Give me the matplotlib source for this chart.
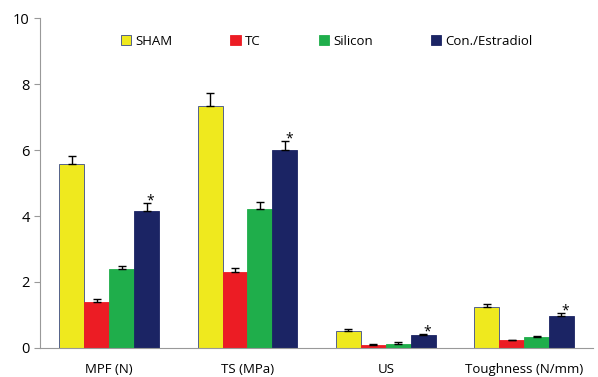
import matplotlib
matplotlib.use('Agg')

import matplotlib.pyplot as plt
import numpy as np

categories = ['MPF (N)', 'TS (MPa)', 'US', 'Toughness (N/mm)']
groups = ['SHAM', 'TC', 'Silicon', 'Con./Estradiol']
sham = [5.58, 7.33, 0.52, 1.25]
tc = [1.40, 2.30, 0.10, 0.24]
silicon = [2.39, 4.21, 0.13, 0.32]
estradiol = [4.16, 6.00, 0.39, 0.97]
sham_err = [0.24, 0.40, 0.05, 0.08]
tc_err = [0.08, 0.12, 0.01, 0.01]
silicon_err = [0.09, 0.21, 0.04, 0.03]
estradiol_err = [0.22, 0.27, 0.02, 0.08]
colors = ['#EFE91E', '#EC1C24', '#1FAE4B', '#1B2464']

plt.rcParams['font.family'] = ['Open Sans', 'DejaVu Sans']

fig = plt.figure(figsize=(5.98, 3.77), dpi=100)
ax = fig.add_axes([0.067, 0.077, 0.925, 0.875])

values = [sham, tc, silicon, estradiol]
errors = [sham_err, tc_err, silicon_err, estradiol_err]
x = np.arange(len(categories))
width = 0.18
for i, (vals, errs, col, name) in enumerate(zip(values, errors, colors, groups)):
    pos = x + (i - 1.5) * width
    ax.bar(pos, vals, width, color=col, edgecolor='#3a4a8a' if i == 0 else col,
           linewidth=0.6, label=name, zorder=2)
    ax.errorbar(pos, vals, yerr=[np.zeros(len(errs)), errs], fmt='none',
                ecolor='black', elinewidth=1, capsize=3, capthick=1, zorder=3)

# significance marks over the estradiol bars
for xi, v, e in zip(x + 1.5 * width, estradiol, estradiol_err):
    ax.text(xi + 0.03, v + e + 0.08, '*', ha='center', va='center', fontsize=10)

ax.set_xlim(-0.5, len(categories) - 0.5)
ax.set_ylim(0, 10)
ax.set_yticks([0, 2, 4, 6, 8, 10])
ax.set_xticks(x)
ax.set_xticklabels(categories, fontsize=9.5)
ax.tick_params(axis='x', length=0, pad=11)
ax.tick_params(axis='y', labelsize=10.5, length=4, color='#999999', direction='out')
for side in ['top', 'right']:
    ax.spines[side].set_visible(False)
for side in ['left', 'bottom']:
    ax.spines[side].set_color('#999999')

ax.legend(loc='upper center', bbox_to_anchor=(0.518, 0.985), ncol=4, frameon=False,
          fontsize=9.5, handlelength=0.8, handleheight=0.8, handletextpad=0.3,
          columnspacing=4.4)

fig.savefig('out.png', dpi=100)
